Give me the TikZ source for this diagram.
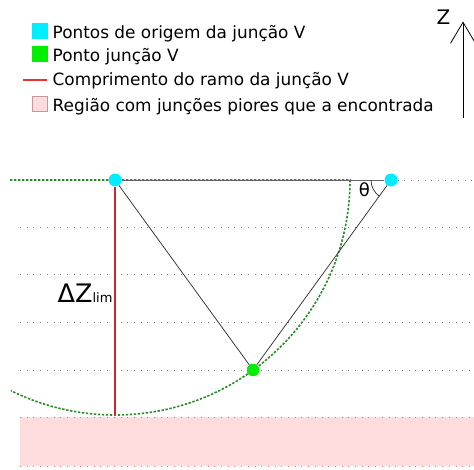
\documentclass[tikz,border=0pt]{standalone}
\usepackage{fontspec}
\setmainfont{DejaVu Sans}
\usetikzlibrary{arrows.meta}
\definecolor{cyanpt}{RGB}{0,238,255}
\definecolor{greenpt}{RGB}{0,238,0}
\definecolor{pinkfill}{RGB}{252,220,220}
\definecolor{pinkedge}{RGB}{232,120,120}
\definecolor{pinkbox}{RGB}{200,150,150}
\definecolor{circgreen}{RGB}{40,140,40}
\definecolor{branchred}{RGB}{200,40,50}
\definecolor{legred}{RGB}{235,50,50}
\begin{document}
\begin{tikzpicture}[x=1pt,y=1pt,
  txt/.style={anchor=base west, inner sep=0pt, font=\fontsize{16.9}{20}\selectfont},
  legsq/.style={rectangle, inner sep=0pt, minimum size=16pt},
  dot/.style={circle, inner sep=0pt, minimum size=13pt},
  gridline/.style={black!50, line width=0.9pt, dash pattern=on 0.9pt off 5.8pt},
  pinkline/.style={pinkedge, line width=0.9pt, dash pattern=on 0.9pt off 5.8pt},
  circline/.style={circgreen, line width=1.6pt, dash pattern=on 2.4pt off 1.6pt},
  thinline/.style={black!80, line width=0.75pt}
]
\useasboundingbox (0,0) rectangle (474,469);

% region
\fill[pinkfill] (20,3) rectangle (474,52);
\draw[pinkline] (20,52) -- (474,52);
\draw[pinkline] (20,3) -- (474,3);

% grid lines
\draw[gridline] (20,242) -- (474,242);
\draw[gridline] (20,195) -- (474,195);
\draw[gridline] (20,147) -- (474,147);
\draw[gridline] (20,99) -- (474,99);

% legend
\node[legsq, fill=cyanpt] (lc) at (40,438) {};
\node[legsq, fill=greenpt] (lg) at (40,414.7) {};
\coordinate (lr1) at (23,389);
\coordinate (lr2) at (47,389);
\draw[legred, line width=1.2pt] (lr1) -- (lr2);
\node[legsq, fill=pinkfill, draw=pinkbox, line width=0.6pt, minimum size=15pt] (lp) at (39.5,364.8) {};
\node[txt] (t1) at (52.5,430) {Pontos de origem da junção V};
\node[txt] (t2) at (52.5,407.3) {Ponto junção V};
\node[txt] (t3) at (52.5,383) {Comprimento do ramo da junção V};
\node[txt] (t4) at (52.5,357.5) {Região com junções piores que a encontrada};

% Z axis
\coordinate (zb) at (463,351);
\coordinate (zt) at (463,447.5);
\draw[black, line width=0.8pt, -{Straight Barb[length=21pt,width=25pt,line width=0.8pt]}] (zb) -- (zt);
\node[anchor=base west, inner sep=0pt, font=\fontsize{20}{24}\selectfont] (zl) at (436.5,444) {Z};

% points
\coordinate (Ac) at (115,289);
\coordinate (Rb) at (115,54);
\coordinate (gl) at (10,289);

% circle of radius dZ
\draw[circline] (gl) -- (350,289) arc[start angle=0, end angle=-116.3, radius=235];

\node[dot, fill=cyanpt] (A) at (115,289) {};
\node[dot, fill=cyanpt] (B) at (391,289) {};
\node[dot, minimum size=12.5pt, fill=greenpt] (C) at (253,99) {};

\draw[gridline] (B) -- (474,289);
\draw[black!60, line width=0.8pt] (A) -- (B);
\draw[thinline] (A) -- (C);
\draw[thinline] (B) -- (C);
\draw[branchred, line width=1.1pt] (A) -- (Rb);

% angle
\draw[thinline] (B.center) ++(-20,0) arc[start angle=180, end angle=234, radius=20];
\node[inner sep=0pt, font=\fontsize{18}{22}\selectfont] (th) at (364.5,279) {θ};

% dZ label
\node[anchor=base west, inner sep=0pt] (dz) at (57.5,166) {\fontsize{25.5}{30}\selectfont ΔZ\fontsize{13}{15}\selectfont lim};
\end{tikzpicture}
\end{document}
